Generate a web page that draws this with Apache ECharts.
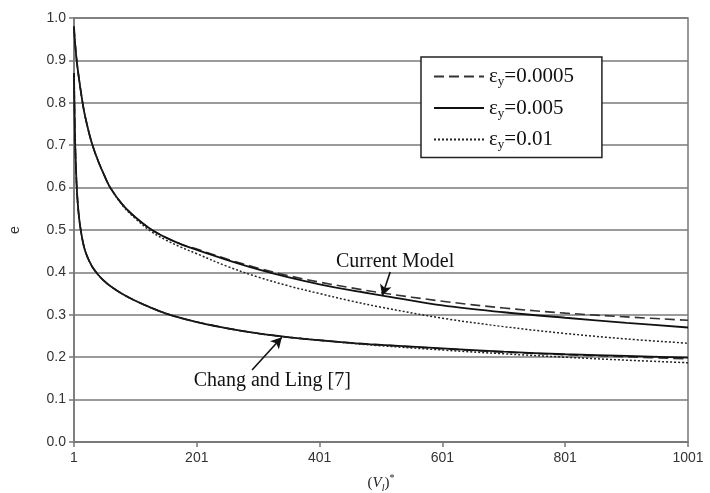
<!DOCTYPE html>
<html>
<head>
<meta charset="utf-8">
<script src="https://cdn.jsdelivr.net/npm/echarts@6/dist/echarts.min.js"></script>
<style>
html,body{margin:0;padding:0;background:#fff;}
#c{width:710px;height:493px;}
</style>
</head>
<body>
<div id="c"></div>
<script>
// ---- data ----
const xs = [1,2,3,5,7,10,15,20,30,40,50,60,80,101,126,151,176,201,251,301,351,401,451,501,601,701,801,901,1001];

const currentDashed = [0.98,0.955,0.937,0.905,0.88,0.848,0.80,0.762,0.705,0.664,0.63,0.60,0.56,0.530,0.502,0.482,0.466,0.455,0.431,0.410,0.392,0.377,0.364,0.352,0.332,0.316,0.304,0.295,0.287];
const currentSolid  = [0.98,0.955,0.937,0.905,0.88,0.848,0.80,0.762,0.705,0.664,0.63,0.60,0.56,0.530,0.502,0.482,0.466,0.453,0.429,0.407,0.388,0.372,0.358,0.346,0.322,0.306,0.293,0.281,0.270];
const currentDotted = [0.98,0.955,0.937,0.905,0.88,0.848,0.80,0.762,0.705,0.664,0.63,0.60,0.558,0.527,0.497,0.476,0.459,0.444,0.414,0.389,0.368,0.350,0.333,0.318,0.292,0.272,0.256,0.243,0.233];

const changDashed = [0.87,0.77,0.70,0.615,0.565,0.52,0.475,0.447,0.415,0.395,0.38,0.368,0.349,0.333,0.317,0.303,0.292,0.283,0.268,0.256,0.247,0.240,0.234,0.229,0.220,0.212,0.206,0.201,0.196];
const changSolid  = [0.87,0.77,0.70,0.615,0.565,0.52,0.475,0.447,0.415,0.395,0.38,0.368,0.349,0.333,0.317,0.303,0.292,0.283,0.268,0.256,0.247,0.240,0.234,0.229,0.221,0.213,0.207,0.203,0.199];
const changDotted = [0.87,0.77,0.70,0.615,0.565,0.52,0.475,0.447,0.415,0.395,0.38,0.368,0.349,0.333,0.317,0.303,0.292,0.283,0.268,0.256,0.247,0.240,0.233,0.227,0.217,0.208,0.200,0.193,0.187];

const seriesNames = ['εy=0.0005','εy=0.005','εy=0.01'];
const xTicks = [1,201,401,601,801,1001];

// annotation anchors in data space
const noteCurrent = {text:'Current Model', at:[524,0.425]};
const noteChang = {text:'Chang and Ling [7]', at:[324,0.144]};
const arrowCurrent = [[516,0.401],[503,0.345]];
const arrowChang = [[291,0.170],[339.5,0.247]];

// ---- build ----
const pair = arr => xs.map((x,i)=>[x,arr[i]]);
const styles = [
  {type:[10,5], width:1.6, color:'#333'},
  {type:'solid', width:1.8, color:'#111'},
  {type:[2,2], width:1.5, color:'#222'}
];
function mk(name, arr, st){
  return {name, type:'line', smooth:0.35, symbol:'none', data:pair(arr),
    lineStyle:{type:st.type, width:st.width, color:st.color}, itemStyle:{color:st.color},
    emphasis:{disabled:true}, z:3};
}
const serif = '"Liberation Serif","DejaVu Serif",serif';
const sans = '"Liberation Sans",Arial,sans-serif';

const series = [
  mk(seriesNames[0], currentDashed, styles[0]),
  mk(seriesNames[1], currentSolid, styles[1]),
  mk(seriesNames[2], currentDotted, styles[2]),
  mk(seriesNames[0], changDashed, styles[0]),
  mk(seriesNames[1], changSolid, styles[1]),
  mk(seriesNames[2], changDotted, styles[2]),
  {name:'notes', type:'line', data:[], symbol:'none', silent:true, z:5,
    markLine:{silent:true, symbol:['none','arrow'], symbolSize:[9,11], animation:false,
      lineStyle:{type:'solid', color:'#111', width:1.6}, label:{show:false},
      data:[
        [{coord:arrowCurrent[0]},{coord:arrowCurrent[1]}],
        [{coord:arrowChang[0]},{coord:arrowChang[1]}]
      ]},
    markPoint:{silent:true, symbol:'circle', symbolSize:1, itemStyle:{color:'rgba(0,0,0,0)'}, animation:false,
      label:{show:true, position:'inside', color:'#111', fontFamily:serif, fontSize:20, formatter:p=>p.name},
      data:[
        {name:noteCurrent.text, coord:noteCurrent.at},
        {name:noteChang.text, coord:noteChang.at}
      ]}
  }
];

const chart = echarts.init(document.getElementById('c'), null, {renderer:'canvas'});
chart.setOption({
  backgroundColor:'#ffffff',
  animation:false,
  grid:{left:74, right:22, top:18, bottom:51, outerBoundsMode:'none', containLabel:false,
    show:true, borderColor:'#777', borderWidth:1.5, backgroundColor:'transparent'},
  legend:{
    data:seriesNames, orient:'vertical', left:421, top:57,
    backgroundColor:'#fff', borderColor:'#222', borderWidth:1.5, borderRadius:0,
    padding:[9,28,6,12], itemGap:9, itemWidth:50, itemHeight:14,
    selectedMode:false,
    itemStyle:{opacity:0},
    formatter: n => '{e|ε}{s|y}{v|' + n.slice(2) + '}',
    textStyle:{fontFamily:serif, fontSize:21, color:'#111',
      rich:{
        e:{fontFamily:serif, fontSize:21, lineHeight:24, color:'#111'},
        s:{fontFamily:serif, fontSize:13, lineHeight:12, verticalAlign:'bottom', color:'#111'},
        v:{fontFamily:serif, fontSize:21, lineHeight:24, color:'#111'}
      }}
  },
  xAxis:{
    type:'value', min:1, max:1001,
    name:'{p|(}{v|V}{l|l}{p|)}{st|*}', nameLocation:'middle', nameGap:31,
    nameTextStyle:{rich:{
      p:{fontFamily:serif, fontSize:15, color:'#222', lineHeight:20},
      v:{fontFamily:serif, fontStyle:'italic', fontSize:15, color:'#222', lineHeight:20},
      l:{fontFamily:serif, fontStyle:'italic', fontSize:10, color:'#222', lineHeight:10, verticalAlign:'bottom'},
      st:{fontFamily:serif, fontSize:10, color:'#222', lineHeight:10, verticalAlign:'top'}
    }},
    axisLine:{show:true, lineStyle:{color:'#777', width:1.5}},
    axisTick:{show:true, length:5, customValues:xTicks, lineStyle:{color:'#777', width:1.5}},
    axisLabel:{customValues:xTicks, margin:9, fontFamily:sans, fontSize:14, color:'#333', formatter:v=>String(v)},
    splitLine:{show:false}
  },
  yAxis:{
    type:'value', min:0, max:1, interval:0.1,
    name:'e', nameLocation:'middle', nameGap:52,
    nameTextStyle:{fontFamily:sans, fontSize:14, color:'#333'},
    axisLine:{show:true, lineStyle:{color:'#777', width:1.5}},
    axisTick:{show:true, length:5, lineStyle:{color:'#777', width:1.5}},
    axisLabel:{margin:8, fontFamily:sans, fontSize:14, color:'#333', formatter:v=>v.toFixed(1)},
    splitLine:{show:true, lineStyle:{color:'#7a7a7a', width:1.5}}
  },
  series
});
</script>
</body>
</html>
